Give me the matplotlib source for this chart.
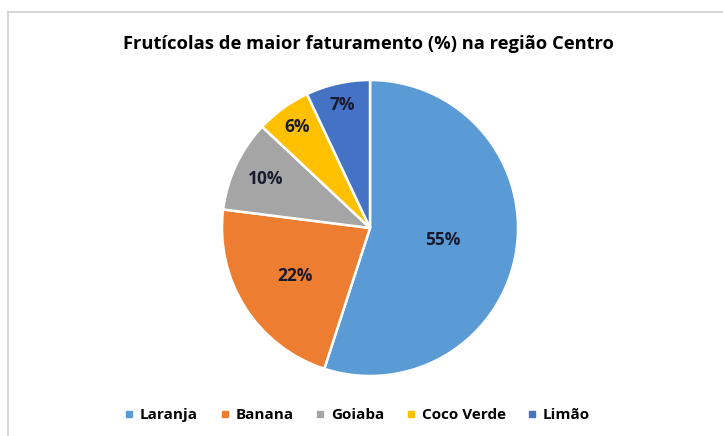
import numpy as np
import matplotlib
matplotlib.use("Agg")
import matplotlib.pyplot as plt
from matplotlib.lines import Line2D

# Data
frutas  = ['Laranja', 'Banana', 'Goiaba', 'Coco Verde', 'Limão']
valores = [55, 22, 10, 6, 7]
cores   = ['#5B9BD5', '#ED7D31', '#A5A5A5', '#FFC000', '#4472C4']

# radial position of each % label (fraction of radius), like Excel "best fit"
lbl_r = [0.50, 0.60, 0.78, 0.84, 0.85]

plt.rcParams['font.family'] = ['Open Sans', 'DejaVu Sans']

fig = plt.figure(figsize=(7.23, 4.36), dpi=100)
fig.patch.set_facecolor('white')

# chart border (only top and left edges are visible in the source)
fig.add_artist(Line2D([8/723, 8/723], [0, 1 - 12/436], transform=fig.transFigure,
                      color='#D0D0D0', lw=1.2))
fig.add_artist(Line2D([8/723, 1], [1 - 12/436, 1 - 12/436], transform=fig.transFigure,
                      color='#D0D0D0', lw=1.2))

ax = fig.add_axes([(370 - 148)/723, 1 - (228 + 148)/436, 296/723, 296/436])
wedges, _ = ax.pie(valores, colors=cores, startangle=90, counterclock=False,
                   wedgeprops=dict(edgecolor='white', linewidth=1.8))
ax.set_xlim(-1, 1)
ax.set_ylim(-1, 1)
ax.set_aspect('equal')
ax.axis('off')

for w, v, r in zip(wedges, valores, lbl_r):
    ang = np.deg2rad((w.theta1 + w.theta2) / 2)
    ax.text(r*np.cos(ang), r*np.sin(ang), f'{v}%', ha='center', va='center',
            fontsize=12.5, fontweight='bold', color='#1A1A2E')

fig.text(0.509, 1 - 44/436, 'Frutícolas de maior faturamento (%) na região Centro',
         ha='center', va='center', fontsize=13.2, fontweight='bold', color='#000000')

handles = [Line2D([], [], marker='s', ls='', markersize=5, markerfacecolor=c,
                  markeredgecolor=c) for c in cores]
fig.legend(handles, frutas, loc='center', bbox_to_anchor=(357/723, 1 - 415/436),
           ncol=5, frameon=False, handlelength=0.7, handletextpad=0.35,
           columnspacing=1.4, prop=dict(weight='bold', size=11))

fig.savefig('out.png', dpi=100)
